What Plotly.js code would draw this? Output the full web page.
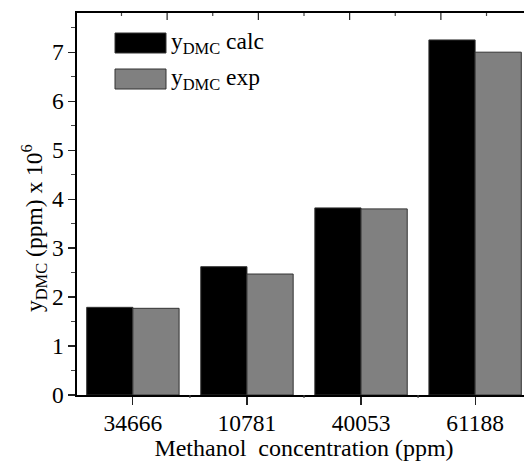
<!DOCTYPE html>
<html><head><meta charset="utf-8">
<script src="https://cdn.plot.ly/plotly-3.0.1.min.js"></script>
<style>
html,body{margin:0;padding:0;overflow:hidden;background:#fff}
svg text{font-family:'Liberation Serif',serif !important}
</style>
</head><body>
<div id="chart" style="width:540px;height:461px"></div>
<script>
const categories = ["34666", "10781", "40053", "61188"];
const calcValues = [1.79, 2.62, 3.82, 7.25];
const expValues = [1.77, 2.47, 3.80, 7.00];
const seriesNames = ["y<sub>DMC</sub> calc", "y<sub>DMC</sub> exp"];
const seriesColors = ["#000000", "#808080"];

const xIdx = categories.map((c, i) => i);
const serifFamily = "Liberation Serif";
const mkFont = (s) => ({family: serifFamily, size: s || 23.5, color: "#000"});

const traces = [
  {type: "bar", x: xIdx, y: calcValues, name: seriesNames[0],
   marker: {color: seriesColors[0], line: {color: "#333", width: 1}}},
  {type: "bar", x: xIdx, y: expValues, name: seriesNames[1],
   marker: {color: seriesColors[1], line: {color: "#333", width: 1}}}
];

const shapes = [];
const annotations = [];
const W = 540, H = 461, ml = 77, mr = 9, mt = 13, mb = 66;
const pw = W - ml - mr, ph = H - mt - mb;
const px = v => (v - ml) / pw;
const py = v => (H - mb - v) / ph;
const legendRows = [43, 79];
legendRows.forEach((cy, i) => {
  shapes.push({type: "rect", xref: "paper", yref: "paper",
    x0: px(115), x1: px(166), y0: py(cy + 10), y1: py(cy - 10),
    fillcolor: seriesColors[i], line: {color: "#333", width: 1}});
  annotations.push({xref: "paper", yref: "paper", x: px(169), y: py(cy),
    xanchor: "left", yanchor: "middle", showarrow: false, text: seriesNames[i],
    font: mkFont()});
});
annotations.push({xref: "paper", yref: "paper", x: px(34), y: py(228),
  xanchor: "center", yanchor: "middle", showarrow: false, textangle: -90,
  text: "y<sub>DMC</sub> (ppm) x 10<sup>6</sup>", font: mkFont()});

// ticks of the mirrored top axis
const topMajor = [0.3, 1.1, 1.9, 2.7];
const topMinor = [-0.1, 0.7, 1.5, 2.3, 3.1];
topMajor.forEach(v => shapes.push({type: "line", xref: "x", yref: "paper", x0: v, x1: v, y0: 1, y1: 1 - 7 / ph, line: {color: "#222", width: 1.2}}));
topMinor.forEach(v => shapes.push({type: "line", xref: "x", yref: "paper", x0: v, x1: v, y0: 1, y1: 1 - 3 / ph, line: {color: "#444", width: 1.2}}));
// minor ticks between categories on the bottom axis
[0.5, 1.5, 2.5].forEach(v => shapes.push({type: "line", xref: "x", yref: "paper", x0: v, x1: v, y0: 0, y1: -3 / ph, line: {color: "#444", width: 1.2}}));

const layout = {
  width: W, height: H,
  margin: {l: ml, r: mr, t: mt, b: mb, pad: 0},
  paper_bgcolor: "#fff", plot_bgcolor: "#fff",
  barmode: "group", bargap: 0.19, bargroupgap: 0,
  showlegend: false,
  font: mkFont(),
  xaxis: {
    range: [-0.49, 3.49], tickmode: "array", tickvals: xIdx, ticktext: categories,
    ticks: "outside", ticklen: 8, tickwidth: 1.2, tickcolor: "#222",
    ticklabelstandoff: -2,
    showline: true, linecolor: "#000", linewidth: 1.6, mirror: true,
    showgrid: false, zeroline: false,
    tickfont: mkFont(),
    title: {text: "Methanol  concentration (ppm)", font: mkFont(24), standoff: 0}
  },
  yaxis: {
    range: [0, 7.8], dtick: 1, tick0: 0,
    ticks: "outside", ticklen: 7, tickwidth: 1.2, tickcolor: "#222",
    minor: {dtick: 0.5, ticks: "outside", ticklen: 4, tickwidth: 1.2, tickcolor: "#444"},
    showline: true, linecolor: "#000", linewidth: 1.6, mirror: true,
    showgrid: false, zeroline: false,
    tickfont: mkFont()
  },
  shapes: shapes,
  annotations: annotations
};

Plotly.newPlot("chart", traces, layout, {displayModeBar: false, staticPlot: true});
</script>
</body></html>
